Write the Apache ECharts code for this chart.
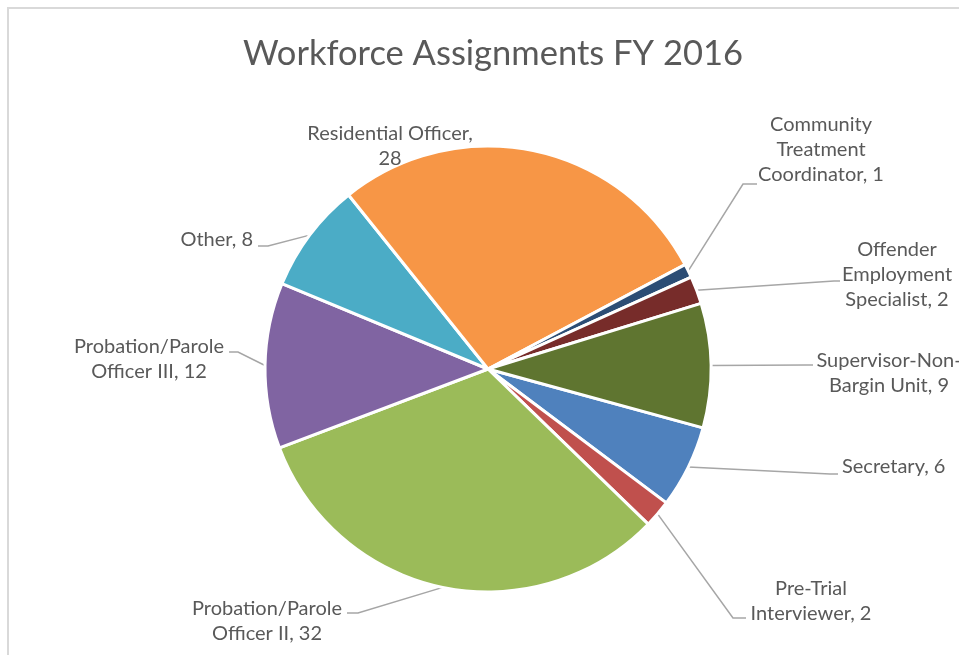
<!DOCTYPE html>
<html>
<head>
<meta charset="utf-8">
<script src="https://cdn.jsdelivr.net/npm/echarts@6/dist/echarts.min.js"></script>
<style>
html,body{margin:0;padding:0;background:#fff;}
#chart{width:959px;height:655px;}
</style>
</head>
<body>
<div id="chart"></div>
<script>
// Data (Excel series order, clockwise)
const categories = [
  'Secretary',
  'Pre-Trial\nInterviewer',
  'Probation/Parole\nOfficer II',
  'Probation/Parole\nOfficer III',
  'Other',
  'Residential Officer',
  'Community\nTreatment\nCoordinator',
  'Offender\nEmployment\nSpecialist',
  'Supervisor-Non-\nBargin Unit'
];
const values = [6, 2, 32, 12, 8, 28, 1, 2, 9];
const colors = ['#4F81BD', '#C0504D', '#9BBB59', '#8064A2', '#4BACC6', '#F79646', '#2C4D75', '#772C2A', '#5F7530'];

// label placement (text anchor + leader line bends)
const labelPos = [
  {x: 842, y: 467, align: 'left',   line: [[830, 474], [838, 474]]},
  {x: 811, y: 601, align: 'center', line: [[733, 618], [746, 618]]},
  {x: 267, y: 621, align: 'center', line: [[358, 613], [347, 613]]},
  {x: 149, y: 359, align: 'center', line: [[238, 352], [229, 352]]},
  {x: 253, y: 240, align: 'right',  line: [[268, 246], [258, 246]]},
  {x: 390, y: 146, align: 'center', line: null},
  {x: 821, y: 150, align: 'center', line: [[743, 184], [757, 184]]},
  {x: 897, y: 275, align: 'center', line: [[834, 281], [840, 281]]},
  {x: 889, y: 373, align: 'center', line: [[806, 365], [813, 365]]}
];

const FONT = 'Lato, "Open Sans", sans-serif';
const chart = echarts.init(document.getElementById('chart'), null, {renderer: 'canvas'});

const data = categories.map((c, i) => {
  const d = {name: c, value: values[i], itemStyle: {color: colors[i]}};
  if (labelPos[i].line === null) {
    d.labelLine = {show: false};
    d.label = {formatter: '{b},\n{c}'};
  }
  return d;
});

chart.setOption({
  animation: false,
  backgroundColor: '#fff',
  title: {
    text: 'Workforce Assignments FY 2016',
    left: 488, top: 31, textAlign: 'center',
    textStyle: {fontFamily: FONT, fontWeight: 'normal', fontSize: 34.5, color: '#595959'}
  },
  graphic: [{
    type: 'rect', silent: true,
    shape: {x: 8, y: 8, width: 1000, height: 700},
    style: {fill: null, stroke: '#d9d9d9', lineWidth: 2}
  }],
  series: [{
    type: 'pie',
    center: [488, 369],
    radius: 223,
    startAngle: -15.3,
    clockwise: true,
    avoidLabelOverlap: false,
    itemStyle: {borderColor: '#fff', borderWidth: 3},
    label: {
      show: true,
      formatter: '{b}, {c}',
      fontFamily: FONT,
      fontSize: 20,
      lineHeight: 25,
      color: '#595959',
      position: 'outside'
    },
    labelLine: {show: true, length: 10, length2: 10, lineStyle: {color: '#a6a6a6', width: 1.5}},
    labelLayout: function (params) {
      const p = labelPos[params.dataIndex];
      const out = {x: p.x, y: p.y, align: p.align, verticalAlign: 'middle'};
      if (p.line && params.labelLinePoints) {
        out.labelLinePoints = [params.labelLinePoints[0], p.line[0], p.line[1]];
      }
      return out;
    },
    data: data
  }]
});
</script>
</body>
</html>
